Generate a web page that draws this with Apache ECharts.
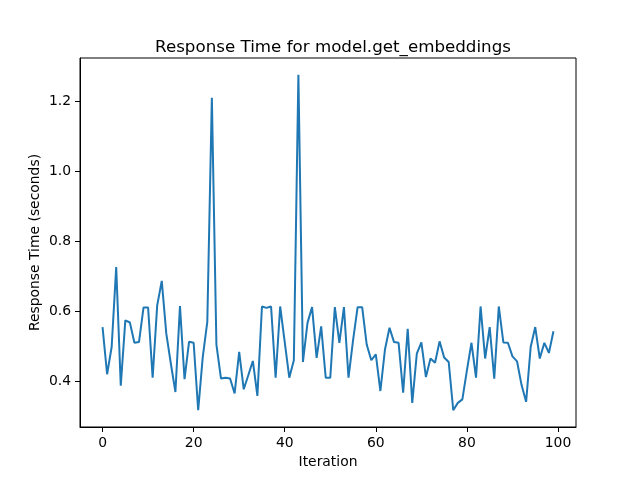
<!DOCTYPE html>
<html>
<head>
<meta charset="utf-8">
<script src="https://cdn.jsdelivr.net/npm/echarts@6/dist/echarts.min.js"></script>
<style>html,body{margin:0;padding:0;background:#fff}#c{width:640px;height:480px}</style>
</head>
<body>
<div id="c"></div>
<script>
const iterations = Array.from({length: 100}, (_, i) => i);
const responseTimes = [
  0.555, 0.420, 0.498, 0.727, 0.387, 0.574, 0.568, 0.510, 0.512, 0.611,
  0.611, 0.410, 0.617, 0.687, 0.536, 0.450, 0.369, 0.615, 0.406, 0.513,
  0.510, 0.317, 0.469, 0.570, 1.211, 0.505, 0.408, 0.410, 0.408, 0.365,
  0.484, 0.377, 0.417, 0.458, 0.358, 0.614, 0.610, 0.614, 0.410, 0.614,
  0.512, 0.410, 0.460, 1.277, 0.455, 0.567, 0.612, 0.467, 0.557, 0.410,
  0.410, 0.612, 0.510, 0.612, 0.410, 0.517, 0.612, 0.612, 0.505, 0.460,
  0.477, 0.372, 0.490, 0.553, 0.512, 0.510, 0.367, 0.550, 0.338, 0.479,
  0.511, 0.412, 0.465, 0.453, 0.514, 0.468, 0.455, 0.317, 0.338, 0.348,
  0.431, 0.510, 0.410, 0.614, 0.465, 0.555, 0.407, 0.614, 0.511, 0.510,
  0.471, 0.457, 0.389, 0.341, 0.498, 0.555, 0.465, 0.510, 0.481, 0.543
];
const xTicks = [0, 20, 40, 60, 80, 100];
const yTicks = [0.4, 0.6, 0.8, 1.0, 1.2];

const chart = echarts.init(document.getElementById('c'), null, {renderer: 'canvas'});
const font = 'DejaVu Sans';
chart.setOption({
  animation: false,
  backgroundColor: '#fff',
  title: {
    text: 'Response Time for model.get_embeddings',
    left: 328, top: 34, textAlign: 'center',
    textStyle: {fontFamily: font, fontSize: 16.7, fontWeight: 'normal', color: '#000'}
  },
  grid: {left: 80, right: 64, top: 58, bottom: 53, show: true, borderColor: '#000', borderWidth: 1, backgroundColor: 'transparent'},
  xAxis: {
    type: 'value', min: -4.95, max: 103.95,
    name: 'Iteration', nameLocation: 'middle', nameGap: 28, nameMoveOverlap: false,
    nameTextStyle: {fontFamily: font, fontSize: 13.9, color: '#000'},
    axisLine: {show: true, onZero: false, lineStyle: {color: '#000', width: 1}},
    axisTick: {show: true, inside: false, length: 5, customValues: xTicks, lineStyle: {color: '#000'}},
    axisLabel: {customValues: xTicks, margin: 9, fontFamily: font, fontSize: 13.9, color: '#000'},
    splitLine: {show: false}
  },
  yAxis: {
    type: 'value', min: 0.269, max: 1.325,
    name: 'Response Time (seconds)', nameLocation: 'middle', nameGap: 38, nameMoveOverlap: false,
    nameTextStyle: {fontFamily: font, fontSize: 13.9, color: '#000'},
    axisLine: {show: true, onZero: false, lineStyle: {color: '#000', width: 1}},
    axisTick: {show: true, inside: false, length: 5, customValues: yTicks, lineStyle: {color: '#000'}},
    axisLabel: {customValues: yTicks, margin: 9, fontFamily: font, fontSize: 13.9, color: '#000', formatter: v => v.toFixed(1)},
    splitLine: {show: false}
  },
  series: [{
    type: 'line',
    data: iterations.map((x, i) => [x, responseTimes[i]]),
    showSymbol: false,
    lineStyle: {color: '#1f77b4', width: 2},
    itemStyle: {color: '#1f77b4'}
  }]
});
</script>
</body>
</html>
